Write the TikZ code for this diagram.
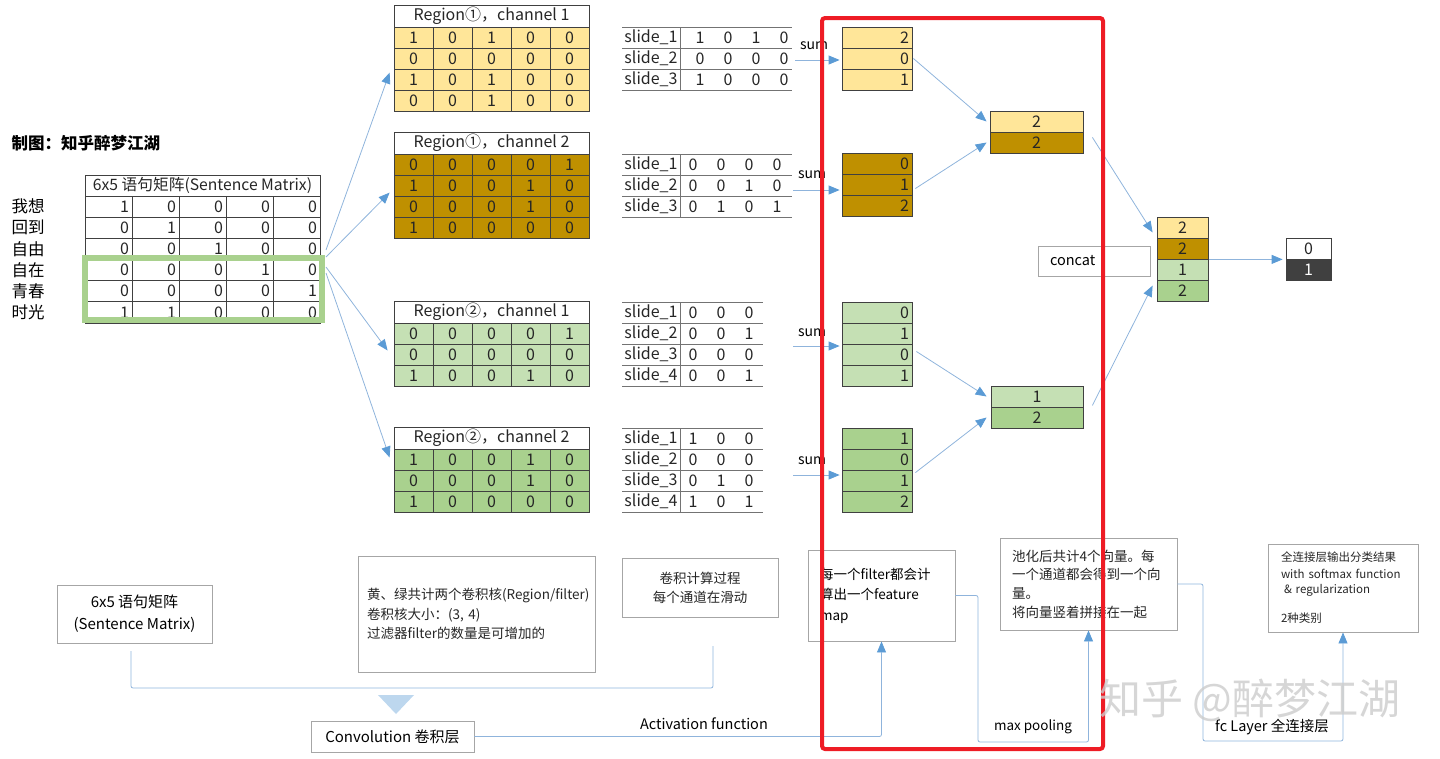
\documentclass[tikz,border=0pt]{standalone}
\usepackage{fontspec}
\setmainfont{Noto Sans CJK SC}
\usetikzlibrary{arrows.meta,calc}
\definecolor{cy}{HTML}{FFE699}
\definecolor{cg}{HTML}{BF9000}
\definecolor{clg}{HTML}{C5E0B4}
\definecolor{cgr}{HTML}{A9D18E}
\definecolor{cdk}{HTML}{404040}
\definecolor{cred}{HTML}{EE1C25}
\definecolor{cblue}{HTML}{5B9BD5}
\definecolor{cline}{HTML}{8FB4DC}
\definecolor{cbox}{HTML}{A6A6A6}
\definecolor{chl}{HTML}{A9D18E}
\definecolor{ctri}{HTML}{BDD7EE}

\newcommand\regtab[5]{%
  \node[tcell, minimum width=195pt] (#1t) at (491.5,#2+11) {#4};
  \foreach \row [count=\i] in {#5}{
    \foreach \v [count=\j] in \row{
      \node[cell, fill=#3] (#1-\i-\j) at ({394+39*(\j-0.5)},{#2+22+21*(\i-0.5)}) {\v};
    }
  }
}
\newcommand\slidetab[6]{%
  \foreach \k in {0,...,#5}{\draw[sline] (622,{#2+21*\k}) -- (#3,{#2+21*\k});}
  \draw[sline] (680,#2) -- (680,{#2+21*#5});
  \foreach \row [count=\i] in {#6}{
    \node (#1-\i) at (651,{#2+21*(\i-0.5)}) {slide\_\i};
    \foreach \v [count=\j] in \row{
      \node (#1-\i-\j) at ({#4+28*(\j-1)},{#2+21*(\i-0.5)}) {\v};
    }
  }
}
\newcommand\fmcol[4]{%
  \foreach \v [count=\i] in {#4}{
    \node[fcell, fill=#3] (#1-\i) at (877,{#2+21*(\i-0.5)}) {\v};
  }
}

\begin{document}
\begin{tikzpicture}[x=1pt,y=-1pt,
  every node/.style={font=\fontsize{16}{19}\selectfont, text=black!85},
  cell/.style={draw=black!75, line width=0.8pt, minimum width=39pt, minimum height=21pt, inner sep=0pt},
  tcell/.style={draw=black!75, line width=0.8pt, fill=white, minimum height=22pt, inner sep=0pt},
  lcell/.style={draw=black!75, line width=0.8pt, minimum height=21.17pt, text width=41pt, align=right, inner xsep=3pt, inner ysep=0pt},
  fcell/.style={draw=black!75, line width=0.8pt, minimum height=21pt, text width=64pt, align=right, inner xsep=3pt, inner ysep=0pt},
  ccell/.style={draw=black!75, line width=0.8pt, minimum width=51pt, minimum height=21pt, inner sep=0pt},
  sline/.style={draw=black!55, line width=1pt},
  box/.style={draw=cbox, line width=0.9pt, inner sep=0pt},
  arr/.style={draw=cline, line width=0.8pt, -{Triangle[length=11pt,width=9pt,color=cblue]}},
  conn/.style={draw=cline, line width=0.8pt, rounded corners=2pt},
  lab/.style={font=\fontsize{14}{16}\selectfont, text=black},
]
\useasboundingbox (0,0) rectangle (1440,758);

% credit
\node[font=\bfseries\fontsize{16.5}{20}\selectfont, anchor=west, text=black] (credit) at (8,143) {制图：知乎醉梦江湖};

% sentence matrix
\node[tcell, minimum width=235pt, minimum height=21pt, font=\fontsize{15.7}{18}\selectfont] (mt) at (202.5,185.5) {6x5 语句矩阵(Sentence Matrix)};
\foreach \row [count=\i] in {{1,0,0,0,0},{0,1,0,0,0},{0,0,1,0,0},{0,0,0,1,0},{0,0,0,0,1},{1,1,0,0,0}}{
  \foreach \v [count=\j] in \row{
    \node[lcell] (m-\i-\j) at ({85+47*(\j-0.5)},{196+21.17*(\i-0.5)}) {\v};
  }
}
\foreach \t [count=\i] in {我想,回到,自由,自在,青春,时光}
  \node[font=\fontsize{16.5}{18}\selectfont, anchor=west, text=black] (w\i) at (8,{196+21.17*(\i-0.5)}) {\t};
\draw[draw=chl, line width=5.5pt] (85,258) rectangle (322,320);

% region tables
\regtab{ra}{5}{cy}{Region①，channel 1}{{1,0,1,0,0},{0,0,0,0,0},{1,0,1,0,0},{0,0,1,0,0}}
\regtab{rb}{132}{cg}{Region①，channel 2}{{0,0,0,0,1},{1,0,0,1,0},{0,0,0,1,0},{1,0,0,0,0}}
\regtab{rc}{301}{clg}{Region②，channel 1}{{0,0,0,0,1},{0,0,0,0,0},{1,0,0,1,0}}
\regtab{rd}{427}{cgr}{Region②，channel 2}{{1,0,0,1,0},{0,0,0,1,0},{1,0,0,0,0}}

% arrows from sentence matrix
\coordinate (src1) at (326,250);
\coordinate (src2) at (326,257);
\coordinate (src3) at (326,267);
\coordinate (src4) at (326,273);
\draw[arr] (src1) -- ([shift={(-4,4)}]ra-3-1.north west);
\draw[arr] (src2) -- ([shift={(-4,-3)}]rb-3-1.north west);
\draw[arr] (src3) -- ([shift={(-6,-4)}]rc-2-1.west);
\draw[arr] (src4) -- ([shift={(-4,-2)}]rd-1-1.west);

% slide tables
\slidetab{sa}{27}{792}{700}{3}{{1,0,1,0},{0,0,0,0},{1,0,0,0}}
\slidetab{sb}{154}{792}{693}{3}{{0,0,0,0},{0,0,1,0},{0,1,0,1}}
\slidetab{sc}{302}{763}{693}{4}{{0,0,0},{0,0,1},{0,0,0},{0,0,1}}
\slidetab{sd}{428}{763}{693}{4}{{1,0,0},{0,0,0},{0,1,0},{1,0,1}}

% feature maps
\fmcol{fa}{27}{cy}{2,0,1}
\fmcol{fb}{153}{cg}{0,1,2}
\fmcol{fc}{302}{clg}{0,1,0,1}
\fmcol{fd}{428}{cgr}{1,0,1,2}

% sum arrows
\node[lab] (sum1) at (814,46) {sum};
\node[lab] (sum2) at (812,175) {sum};
\node[lab] (sum3) at (812,333) {sum};
\node[lab] (sum4) at (812,461) {sum};
\coordinate (sa1) at (795,60);
\coordinate (sa2) at (793,190);
\coordinate (sa3) at (793,346);
\coordinate (sa4) at (793,475);
\draw[arr, shorten >=2pt] (sa1) -- (sa1 -| fa-2.west);
\draw[arr, shorten >=2pt] (sa2) -- (sa2 -| fb-2.west);
\draw[arr, shorten >=2pt] (sa3) -- (sa3 -| fc-3.west);
\draw[arr, shorten >=2pt] (sa4) -- (sa4 -| fd-3.west);

% pooled
\node[ccell, minimum width=93pt, fill=cy] (pa-1) at (1036.5,121.5) {2};
\node[ccell, minimum width=93pt, fill=cg] (pa-2) at (1036.5,142.5) {2};
\node[ccell, minimum width=92pt, fill=clg] (pb-1) at (1037,396.5) {1};
\node[ccell, minimum width=92pt, fill=cgr] (pb-2) at (1037,417.5) {2};
\draw[arr] ([xshift=1pt]fa-2.east) -- ([xshift=-3pt]pa-1.west);
\draw[arr] ([shift={(3,4)}]fb-2.east) -- ([xshift=-3pt]pa-2.west);
\draw[arr] ([shift={(4,-3)}]fc-3.east) -- ([xshift=-4pt]pb-1.west);
\draw[arr] ([shift={(3,3)}]fd-3.north east) -- ([xshift=-4pt]pb-2.west);

% concat
\node[box, minimum width=112pt, minimum height=30pt, text width=88pt, align=left, font=\fontsize{14.5}{17}\selectfont, text=black] (concat) at (1094,261) {concat};
\foreach \v/\c [count=\i] in {2/cy,2/cg,1/clg,2/cgr}
  \node[ccell, fill=\c] (c-\i) at (1182.5,{217+21*(\i-0.5)}) {\v};
\draw[arr] ([shift={(9,5)}]pa-1.south east) -- ([shift={(-4,-6)}]c-1.south west);
\draw[arr] ([shift={(9,-2)}]pb-1.south east) -- ([shift={(-4,6)}]c-4.north west);

% output
\node[ccell, minimum width=45pt, fill=white] (o-1) at (1308.5,248.5) {0};
\node[ccell, minimum width=45pt, fill=cdk, text=white] (o-2) at (1308.5,269.5) {1};
\draw[arr] ([xshift=1pt]c-2.south east) -- ([xshift=-3pt]o-1.south west);

% bottom boxes
\node[box, minimum width=155pt, minimum height=58pt, align=center, font=\fontsize{15}{22}\selectfont, text=black] (b1) at (134.5,614) {6x5 语句矩阵\\(Sentence Matrix)};
\node[box, minimum width=237pt, minimum height=116pt, text width=219pt, align=left, font=\fontsize{13.5}{19.5}\selectfont] (b2) at (476.5,614) {黄、绿共计两个卷积核(Region/filter)\\卷积核大小：(3, 4)\\过滤器filter的数量是可增加的};
\node[box, minimum width=156pt, minimum height=59pt, align=center, font=\fontsize{13.5}{19}\selectfont] (b3) at (700,587.5) {卷积计算过程\\每个通道在滑动};
\node[box, minimum width=147pt, minimum height=91pt, text width=123pt, align=left, font=\fontsize{13.5}{20.5}\selectfont, text=black] (b4) at (881.5,595.5) {每一个filter都会计\\算出一个feature\\map};
\node[box, minimum width=177pt, minimum height=92pt, text width=153pt, align=left, font=\fontsize{13.5}{18.7}\selectfont] (b5) at (1088.5,584) {池化后共计4个向量。每\\一个通道都会得到一个向\\量。\\将向量竖着拼接在一起};
\node[box, minimum width=150pt, minimum height=88pt, text width=124pt, align=left, font=\fontsize{11.5}{15}\selectfont] (b6) at (1343,588) {全连接层输出分类结果\\[2pt]with softmax function\\\hspace*{3pt}\& regularization\\[14pt]2种类别};
\node[box, minimum width=163pt, minimum height=31pt, font=\fontsize{15}{18}\selectfont, text=black] (conv) at (392.5,736.5) {Convolution 卷积层};

% bracket and triangle
\coordinate (bl) at (131,651);
\coordinate (bm) at (422,688);
\coordinate (br) at (713,646);
\draw[conn] (bl) |- (bm) -| (br);
\fill[ctri] (378,695) -- (414,695) -- (396,714) -- cycle;

% bottom connectors
\draw[arr, rounded corners=2pt] (conv.east) -| (b4.south);
\node[lab, font=\fontsize{14.5}{17}\selectfont] (act) at (704,724) {Activation function};
\coordinate (mp) at (978,742);
\draw[arr, rounded corners=2pt] (b4.east) -| (mp) -| (b5.south);
\node[lab, font=\fontsize{13.5}{16}\selectfont] (mpl) at (1033,727) {max pooling};
\coordinate (fcp) at (1203,741);
\draw[arr, rounded corners=2pt] (b5.east) -| (fcp) -| (b6.south);
\node[lab, font=\fontsize{14.5}{17}\selectfont] (fcl) at (1272,727) {fc Layer 全连接层};

% red frame
\draw[cred, line width=4pt, rounded corners=3pt] (822,18) rectangle (1103,749);

% watermark
\node[font=\fontsize{42}{46}\selectfont, text=gray!40, opacity=0.8] (wm) at (1250,700) {知乎 @醉梦江湖};
\end{tikzpicture}
\end{document}
